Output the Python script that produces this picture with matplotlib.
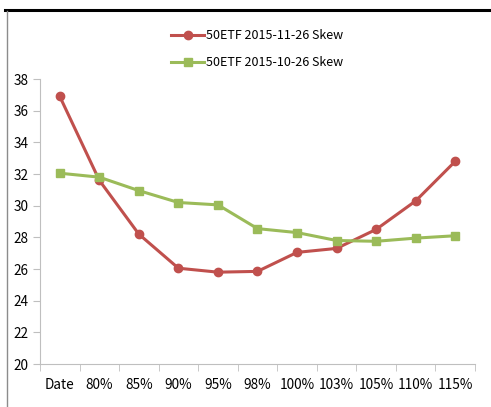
import matplotlib.pyplot as plt
from matplotlib.lines import Line2D

plt.rcParams['font.family'] = ['Noto Sans CJK SC', 'DejaVu Sans']

# strike categories and implied-vol skew for the two dates
categories = ['Date', '80%', '85%', '90%', '95%', '98%', '100%', '103%', '105%', '110%', '115%']
skew_1126 = [36.9, 31.6, 28.2, 26.05, 25.8, 25.85, 27.05, 27.3, 28.5, 30.3, 32.8]
skew_1026 = [32.05, 31.8, 30.95, 30.2, 30.05, 28.55, 28.3, 27.8, 27.75, 27.95, 28.1]
label_1126 = '50ETF 2015-11-26 Skew'
label_1026 = '50ETF 2015-10-26 Skew'

red = '#C0504D'
green = '#9BBB59'
grey = '#BFBFBF'

fig = plt.figure(figsize=(4.91, 4.07), dpi=100)

# frame: header rule and left border
fig.add_artist(Line2D([5/491, 1], [1 - 10/407, 1 - 10/407], color='black', lw=2.2))
fig.add_artist(Line2D([7/491, 7/491], [0, 1 - 11/407], color='#8C8C8C', lw=1))

ax = fig.add_axes([40/491, 1 - 364/407, 435/491, 285/407])
x = range(len(categories))
ax.plot(x, skew_1126, color=red, lw=2.2, marker='o', ms=6, label=label_1126)
ax.plot(x, skew_1026, color=green, lw=2.2, marker='s', ms=6, label=label_1026)

ax.set_xlim(-0.5, len(categories) - 0.5)
ax.set_ylim(20, 38)
ax.set_yticks(range(20, 39, 2))
ax.set_xticks(x)
ax.set_xticklabels(categories)
ax.set_xticks([i - 0.5 for i in range(len(categories) + 1)], minor=True)
ax.tick_params(axis='x', which='major', length=0, pad=10, labelsize=9.8)
ax.tick_params(axis='x', which='minor', length=5, color=grey)
ax.tick_params(axis='y', length=5, color=grey, labelsize=9.8, pad=3)

for side in ['top', 'right']:
    ax.spines[side].set_visible(False)
for side in ['left', 'bottom']:
    ax.spines[side].set_color(grey)

ax.legend(loc='lower center', bbox_to_anchor=(0.5, 0.995), frameon=False, fontsize=9,
          handlelength=2.6, handletextpad=0.2, labelspacing=1.1)

fig.savefig('out.png', dpi=100)
